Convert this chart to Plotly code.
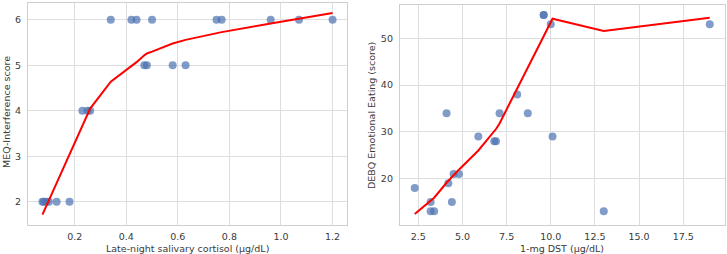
import plotly.graph_objects as go

# Left panel: late-night salivary cortisol vs MEQ-Interference
cortisol_x = [0.075, 0.08, 0.09, 0.10, 0.13, 0.18,
              0.23, 0.25, 0.26,
              0.47, 0.48, 0.58, 0.63,
              0.34, 0.42, 0.44, 0.50, 0.75, 0.77, 0.96, 1.07, 1.20]
meq_y = [2, 2, 2, 2, 2, 2,
         4, 4, 4,
         5, 5, 5, 5,
         6, 6, 6, 6, 6, 6, 6, 6, 6]
fit_left_x = [0.075, 0.18, 0.23, 0.26, 0.34, 0.42, 0.44, 0.47, 0.48, 0.50,
              0.58, 0.63, 0.75, 0.77, 0.96, 1.07, 1.20]
fit_left_y = [1.72, 3.06, 3.70, 4.05, 4.64, 4.98, 5.07, 5.22, 5.26, 5.30,
              5.48, 5.56, 5.71, 5.73, 5.92, 6.03, 6.15]

# Right panel: 1-mg DST vs DEBQ Emotional Eating
dst_x = [2.3, 3.2, 3.2, 3.4, 4.1, 4.2, 4.4, 4.5, 4.8, 5.9, 6.8, 6.9, 7.1,
         8.1, 8.7, 9.6, 9.6, 10.0, 10.1, 13.0, 19.0]
debq_y = [18, 15, 13, 13, 34, 19, 15, 21, 21, 29, 28, 28, 34,
          38, 34, 55, 55, 53, 29, 13, 53]
fit_right_x = [2.3, 3.2, 3.4, 4.1, 4.2, 4.4, 4.5, 4.8, 5.9, 6.8, 6.9, 7.1,
               8.1, 8.7, 9.6, 10.0, 10.1, 13.0, 19.0]
fit_right_y = [12.4, 15.3, 15.9, 19.1, 19.5, 20.3, 20.7, 21.9, 26.0, 30.0, 30.6, 31.8,
               39.3, 43.7, 50.5, 53.5, 54.2, 51.6, 54.4]

left_xticks = [0.2, 0.4, 0.6, 0.8, 1.0, 1.2]
left_yticks = [2, 3, 4, 5, 6]
right_xticks = [2.5, 5.0, 7.5, 10.0, 12.5, 15.0, 17.5]
right_yticks = [20, 30, 40, 50]

PT_COLOR = "rgba(76,114,176,0.7)"
LINE_COLOR = "red"
GRID = "#dedede"
BORDER = "#cfcfcf"
TXT = "#3a3a3a"
FONT = "DejaVu Sans"

fig = go.Figure()
fig.add_trace(go.Scatter(x=cortisol_x, y=meq_y, mode="markers",
                         marker=dict(color=PT_COLOR, size=8, line=dict(width=0)),
                         xaxis="x", yaxis="y", showlegend=False))
fig.add_trace(go.Scatter(x=fit_left_x, y=fit_left_y, mode="lines",
                         line=dict(color=LINE_COLOR, width=2),
                         xaxis="x", yaxis="y", showlegend=False))
fig.add_trace(go.Scatter(x=dst_x, y=debq_y, mode="markers",
                         marker=dict(color=PT_COLOR, size=8, line=dict(width=0)),
                         xaxis="x2", yaxis="y2", showlegend=False))
fig.add_trace(go.Scatter(x=fit_right_x, y=fit_right_y, mode="lines",
                         line=dict(color=LINE_COLOR, width=2),
                         xaxis="x2", yaxis="y2", showlegend=False))

W, H = 727, 254
def px(x):
    return x / W
def py(y):
    return 1 - y / H

axis_common = dict(showgrid=True, gridcolor=GRID, gridwidth=1, zeroline=False,
                   showline=True, linecolor=BORDER, linewidth=1.3, mirror=True,
                   ticks="", tickfont=dict(family=FONT, size=9.5, color=TXT))

fig.update_layout(
    width=W, height=H,
    margin=dict(l=0, r=0, t=0, b=0),
    paper_bgcolor="white", plot_bgcolor="white",
    font=dict(family=FONT, color=TXT),
    xaxis=dict(domain=[px(28), px(347)], range=[0.019, 1.256],
               tickvals=left_xticks, ticktext=[f"{v:.1f}" for v in left_xticks],
               anchor="y", ticklabelstandoff=2, **axis_common),
    yaxis=dict(domain=[py(225), py(3)], range=[1.49, 6.37],
               tickvals=left_yticks, anchor="x", ticklabelstandoff=4, **axis_common),
    xaxis2=dict(domain=[px(400), px(724.5)], range=[1.465, 19.835],
                tickvals=right_xticks, ticktext=[f"{v:.1f}" for v in right_xticks],
                anchor="y2", ticklabelstandoff=2, **axis_common),
    yaxis2=dict(domain=[py(225), py(5)], range=[10.06, 57.14],
                tickvals=right_yticks, anchor="x2", ticklabelstandoff=4, **axis_common),
    annotations=[
        dict(text="Late-night salivary cortisol (µg/dL)", x=px(187.5), y=py(248),
             xref="paper", yref="paper", showarrow=False,
             font=dict(family=FONT, size=9.5, color=TXT), xanchor="center", yanchor="middle"),
        dict(text="MEQ-Interference score", x=px(6), y=py(112),
             xref="paper", yref="paper", showarrow=False, textangle=-90,
             font=dict(family=FONT, size=9.5, color=TXT), xanchor="center", yanchor="middle"),
        dict(text="1-mg DST (µg/dL)", x=px(562), y=py(248),
             xref="paper", yref="paper", showarrow=False,
             font=dict(family=FONT, size=9.5, color=TXT), xanchor="center", yanchor="middle"),
        dict(text="DEBQ Emotional Eating (score)", x=px(371), y=py(116),
             xref="paper", yref="paper", showarrow=False, textangle=-90,
             font=dict(family=FONT, size=9.5, color=TXT), xanchor="center", yanchor="middle"),
    ],
)

fig.write_html("out.html")
